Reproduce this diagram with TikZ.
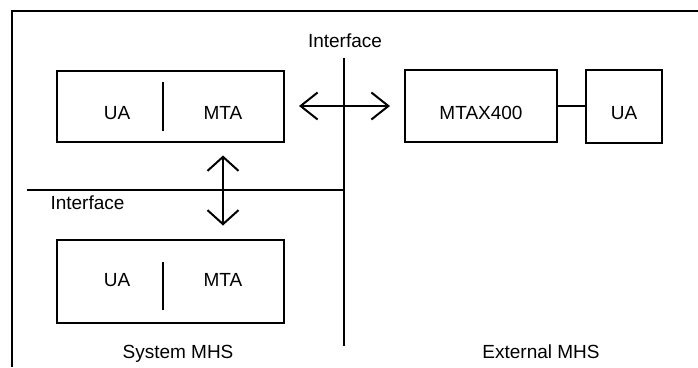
\documentclass[tikz,border=0pt]{standalone}
\usepackage{fontspec}
\setmainfont{Liberation Sans}
\usetikzlibrary{arrows.meta}
\begin{document}
\begin{tikzpicture}[x=1pt,y=-1pt,
  line width=2pt,
  box/.style={draw,line width=2pt,inner sep=0pt},
  lbl/.style={font=\fontsize{19}{22}\selectfont,inner sep=0pt,anchor=base},
  hbarb/.style={{Straight Barb[length=17pt,width=27pt]}-{Straight Barb[length=17pt,width=27pt]},
    shorten <=14pt,shorten >=14pt},
  vbarb/.style={{Straight Barb[length=14pt,width=31pt]}-{Straight Barb[length=14pt,width=31pt]},
    shorten <=13pt,shorten >=13pt}]
\useasboundingbox (0,0) rectangle (698,367);

% outer frame (open at the right and bottom)
\draw (12,367) -- (12,11) -- (698,11);

% system MHS: two UA/MTA pairs
\node[box,minimum width=227pt,minimum height=71pt] (sysA) at (170.5,106) {};
\node[box,minimum width=227pt,minimum height=83pt] (sysB) at (170.5,281) {};
\node[lbl] (uaA) at (117,119.5) {UA};
\node[lbl] (mtaA) at (223,119.5) {MTA};
\node[lbl] (uaB) at (117,286.5) {UA};
\node[lbl] (mtaB) at (223,286.5) {MTA};
\draw (163,82) -- (163,131);
\draw (163,262) -- (163,310);

% external MHS
\node[box,minimum width=152pt,minimum height=72pt] (mtax) at (481,106) {};
\node[box,minimum width=76pt,minimum height=73pt] (uaX) at (624,106.5) {};
\node[lbl] (mtaxt) at (481,119.5) {MTAX400};
\node[lbl] (uaXt) at (624,119.5) {UA};
\draw (mtax.east) -- (uaX.west |- mtax.east);

% interfaces
\coordinate (vtop) at (344,58);
\coordinate (vbot) at (344,346);
\coordinate (hleft) at (27,190);
\coordinate (hright) at (344,190);
\draw (vtop) -- (vbot);
\draw (hleft) -- (hright);
\node[lbl] (ifTop) at (345,47) {Interface};
\node[lbl] (ifLeft) at (87.5,209) {Interface};

% exchanges
\draw[hbarb] (sysA.east) -- (mtax.west);
\draw[vbarb] (mtaA |- sysA.south) -- (mtaA |- sysB.north);

% captions
\node[lbl] (capSys) at (178,358) {System MHS};
\node[lbl] (capExt) at (541,358) {External MHS};
\end{tikzpicture}
\end{document}
